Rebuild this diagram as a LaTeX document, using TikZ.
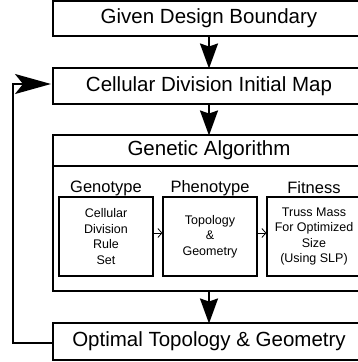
\documentclass[tikz,border=0pt]{standalone}
\usepackage{fontspec}
\setmainfont{Liberation Sans}
\usetikzlibrary{arrows.meta}
\begin{document}
\begin{tikzpicture}[x=1pt,y=-1pt,
  bigbox/.style={draw,line width=2pt,minimum width=312pt,inner sep=0pt,font=\fontsize{20.5}{22}\selectfont},
  subbox/.style={draw,line width=1.2pt,minimum width=94pt,minimum height=79pt,inner sep=0pt,align=center,font=\fontsize{12.5}{15.5}\selectfont},
  subtitle/.style={inner sep=0pt,font=\fontsize{16.5}{18}\selectfont},
  bigarrow/.style={line width=2pt,-{Stealth[length=25pt,width=18pt,inset=3pt]}},
  smallarrow/.style={line width=0.8pt,-{Straight Barb[length=4pt,width=9pt]}}]
\useasboundingbox (0,0) rectangle (358,362);
\clip (0,0) rectangle (358,362);
\node[bigbox,minimum height=35pt] (given) at (209,18.5) {Given Design Boundary};
\node[bigbox,minimum height=36pt] (cell) at (209,86) {Cellular Division Initial Map};
\node[bigbox,minimum height=156pt] (ga) at (209,213) {};
\coordinate (sepL) at (53,166);
\coordinate (sepR) at (366,166);
\draw[line width=2pt] (sepL) -- (sepR);
\node[inner sep=0pt,font=\fontsize{20.5}{22}\selectfont] (gatitle) at (209,150.5) {Genetic Algorithm};
\node[subtitle] (geno) at (106,188) {Genotype};
\node[subtitle] (pheno) at (210,188) {Phenotype};
\node[subtitle] (fit) at (314,188) {Fitness};
\node[subbox] (b1) at (106,236.5) {Cellular\\Division\\Rule\\Set};
\node[subbox] (b2) at (210,236.5) {Topology\\\&\\Geometry};
\node[subbox] (b3) at (314,236.5) {\raisebox{3pt}{\begin{tabular}{@{}c@{}}Truss Mass\\For Optimized\\Size\\(Using SLP)\end{tabular}}};
\node[bigbox,minimum height=37pt] (opt) at (209,341.5) {Optimal Topology \& Geometry};
\draw[bigarrow] (given.south) -- ([yshift=-1.5pt]cell.north);
\draw[bigarrow] (cell.south) -- ([yshift=-1.5pt]ga.north);
\draw[bigarrow] (ga.south) -- ([yshift=-1.5pt]opt.north);
\draw[smallarrow] ([yshift=3.5pt]b1.east) -- ([yshift=3.5pt]b2.west);
\draw[smallarrow] ([yshift=3.5pt]b2.east) -- ([yshift=3.5pt]b3.west);
\coordinate (lb) at (13,343);
\coordinate (lt) at (13,84);
\draw[line width=2pt,line join=miter,-{Stealth[length=36pt,width=20pt,inset=8pt]}] (opt.west |- lb) -- (lb) -- (lt) -- ([xshift=-1pt]cell.west |- lt);
\end{tikzpicture}
\end{document}
